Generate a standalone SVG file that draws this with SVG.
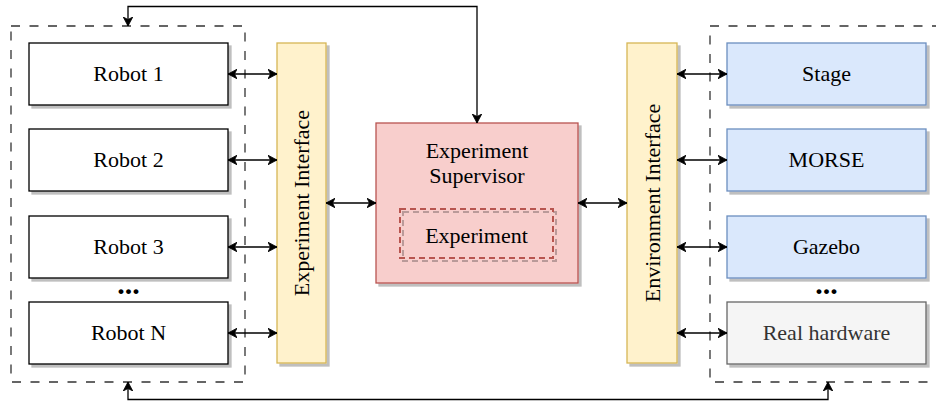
<svg xmlns="http://www.w3.org/2000/svg" width="936" height="401" viewBox="0 0 936 401">
  <defs>
    <filter id="shadow" x="-10%" y="-10%" width="130%" height="130%">
      <feDropShadow dx="3" dy="3" stdDeviation="0.7" flood-color="#000" flood-opacity="0.25"/>
    </filter>
    <marker id="arrow" viewBox="-9 -5 10 10" refX="0" refY="0" markerWidth="10" markerHeight="10" markerUnits="userSpaceOnUse" orient="auto-start-reverse">
      <path d="M-9,-4.8 L0,0 L-9,4.8 L-6.5,0 Z" fill="#000" stroke="#000" stroke-width="0.8"/>
    </marker>
    <style>
      text { font-family: "Liberation Serif", "Times New Roman", serif; font-size: 22px; text-anchor: middle; fill: #000; }
      .group { fill: none; stroke: #333; stroke-width: 1.3; stroke-dasharray: 9 9.5; }
      .box { stroke-width: 1.3; filter: url(#shadow); }
      .robot { fill: #fff; stroke: #000; }
      .iface { fill: #fff2cc; stroke: #d6b656; }
      .sup { fill: #f8cecc; stroke: #b85450; }
      .exp { fill: none; stroke: #b85450; stroke-width: 2; stroke-dasharray: 6 4; filter: url(#shadow); }
      .sim { fill: #dae8fc; stroke: #6c8ebf; }
      .real { fill: #f5f5f5; stroke: #666; }
      .dots { font-weight: bold; font-size: 30px; }
      #connectors path { fill: none; stroke: #000; stroke-width: 1.3; marker-start: url(#arrow); marker-end: url(#arrow); }
    </style>
  </defs>

  <!-- dashed containers -->
  <g id="robots-group">
    <rect class="group" x="11" y="26" width="234" height="356"/>
  </g>
  <g id="environments-group">
    <rect class="group" x="710" y="26" width="236" height="356"/>
  </g>

  <!-- robots -->
  <g id="robot-1">
    <rect class="box robot" x="29" y="43" width="199" height="62"/>
    <text x="128.5" y="81">Robot 1</text>
  </g>
  <g id="robot-2">
    <rect class="box robot" x="29" y="129" width="199" height="62"/>
    <text x="128.5" y="167">Robot 2</text>
  </g>
  <g id="robot-3">
    <rect class="box robot" x="29" y="216" width="199" height="62"/>
    <text x="128.5" y="254">Robot 3</text>
  </g>
  <g id="robot-dots">
    <text class="dots" x="128.5" y="294">...</text>
  </g>
  <g id="robot-n">
    <rect class="box robot" x="29" y="302" width="199" height="62"/>
    <text x="128.5" y="340">Robot N</text>
  </g>

  <!-- interfaces -->
  <g id="experiment-interface">
    <rect class="box iface" x="277" y="43" width="49" height="320"/>
    <text transform="translate(309,203) rotate(-90)" x="0" y="0">Experiment Interface</text>
  </g>
  <g id="environment-interface">
    <rect class="box iface" x="627" y="43" width="50" height="320"/>
    <text transform="translate(660,203) rotate(-90)" x="0" y="0">Environment Interface</text>
  </g>

  <!-- supervisor -->
  <g id="experiment-supervisor">
    <rect class="box sup" x="376" y="123" width="202" height="160"/>
    <text x="477" y="158">Experiment</text>
    <text x="477" y="183">Supervisor</text>
  </g>
  <g id="experiment">
    <rect class="exp" x="400" y="209" width="153" height="49"/>
    <text x="476.5" y="242.5">Experiment</text>
  </g>

  <!-- environments -->
  <g id="stage">
    <rect class="box sim" x="727" y="43" width="199" height="62"/>
    <text x="826.5" y="81">Stage</text>
  </g>
  <g id="morse">
    <rect class="box sim" x="727" y="129" width="199" height="62"/>
    <text x="826.5" y="167">MORSE</text>
  </g>
  <g id="gazebo">
    <rect class="box sim" x="727" y="216" width="199" height="62"/>
    <text x="826.5" y="254">Gazebo</text>
  </g>
  <g id="env-dots">
    <text class="dots" x="826.5" y="294">...</text>
  </g>
  <g id="real-hardware">
    <rect class="box real" x="727" y="302" width="199" height="62"/>
    <text x="826.5" y="340" style="fill:#333">Real hardware</text>
  </g>

  <!-- connectors -->
  <g id="connectors">
    <path d="M228,74 H277"/>
    <path d="M228,160 H277"/>
    <path d="M228,247 H277"/>
    <path d="M228,333 H277"/>
    <path d="M326,203 H376"/>
    <path d="M578,203 H627"/>
    <path d="M677,74 H727"/>
    <path d="M677,160 H727"/>
    <path d="M677,247 H727"/>
    <path d="M677,333 H727"/>
    <path d="M128,26 V6.5 H477 V123"/>
    <path d="M128,382 V399.5 H828 V382"/>
  </g>
</svg>
